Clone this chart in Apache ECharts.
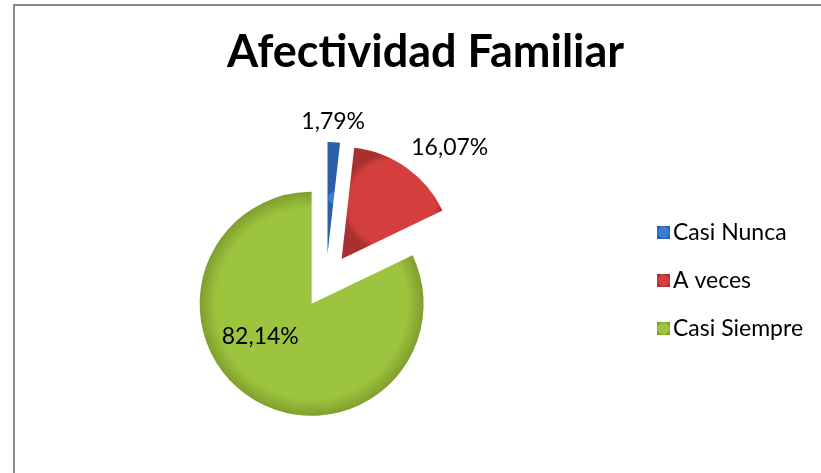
<!DOCTYPE html>
<html>
<head>
<meta charset="utf-8">
<script src="https://cdn.jsdelivr.net/npm/echarts@6/dist/echarts.min.js"></script>
<style>
html,body{margin:0;padding:0;background:#fff;overflow:hidden;scrollbar-width:none;}
::-webkit-scrollbar{display:none;width:0;height:0;}
#chart{position:absolute;left:0;top:0;width:821px;height:473px;}
</style>
</head>
<body>
<div id="chart"></div>
<script>
const titleText = 'Afectividad Familiar';
const categories = ['Casi Nunca', 'A veces', 'Casi Siempre'];
const values = [1.79, 16.07, 82.14];
const labelTexts = ['1,79%', '16,07%', '82,14%'];

const palette = [
  ['#5b9be8', '#3a7bd5', '#2a5ea8'],
  ['#e8605e', '#d43f3d', '#a83030'],
  ['#b4d85a', '#9dc43e', '#7f9f2d']
];
const labelPos = ['outside', 'outside', 'inside'];
const labelShift = [[-38, -11], [-6, -12], [-20, -17]];

function grad(c) {
  return new echarts.graphic.RadialGradient(0.5, 0.5, 0.5, [
    {offset: 0, color: c[1]},
    {offset: 0.85, color: c[1]},
    {offset: 1, color: c[2]}
  ]);
}

const chart = echarts.init(document.getElementById('chart'), null, {renderer: 'canvas'});
const FONT = 'Lato';

chart.setOption({
  animation: false,
  backgroundColor: '#ffffff',
  graphic: [{
    type: 'line', silent: true, z: -10,
    shape: {x1: 14, y1: 4, x2: 14, y2: 700},
    style: {stroke: '#8c8c8c', lineWidth: 2}
  }, {
    type: 'line', silent: true, z: -10,
    shape: {x1: 13, y1: 5, x2: 1000, y2: 5},
    style: {stroke: '#8c8c8c', lineWidth: 2}
  }],
  title: {
    text: titleText,
    left: 227,
    top: 30,
    padding: 0,
    textStyle: {fontFamily: FONT, fontWeight: 'bold', fontSize: 45, color: '#000'}
  },
  legend: {
    orient: 'vertical',
    left: 652,
    top: 216,
    itemWidth: 13,
    itemHeight: 13,
    itemGap: 25,
    icon: 'rect',
    textStyle: {fontFamily: FONT, fontSize: 23, color: '#000', padding: [0, 0, 0, -2]},
    selectedMode: false,
    data: categories
  },
  series: [{
    type: 'pie',
    center: [326, 281],
    radius: 112,
    startAngle: 90,
    clockwise: true,
    selectedMode: 'multiple',
    selectedOffset: 27,
    avoidLabelOverlap: false,
    emphasis: {disabled: true},
    labelLine: {show: false, length: 10, length2: 0},
    labelLayout: function (p) {
      const s = labelShift[p.dataIndex];
      return {dx: s[0], dy: s[1]};
    },
    data: categories.map((name, i) => ({
      name: name,
      value: values[i],
      selected: true,
      itemStyle: {color: grad(palette[i])},
      label: {
        show: true,
        position: labelPos[i],
        formatter: labelTexts[i],
        fontFamily: FONT,
        fontSize: 23,
        color: '#000'
      }
    }))
  }]
});
</script>
</body>
</html>
